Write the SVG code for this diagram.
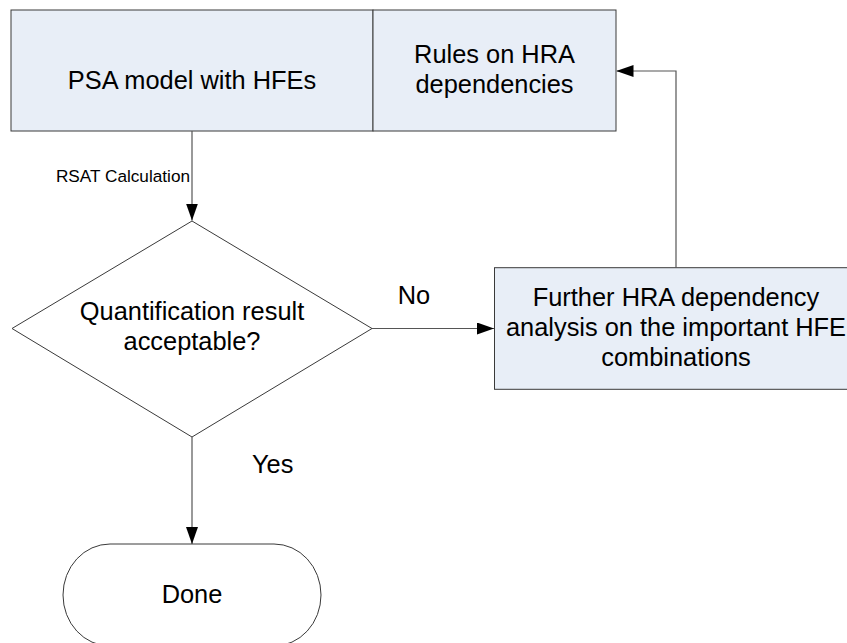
<svg xmlns="http://www.w3.org/2000/svg" width="847" height="643" viewBox="0 0 847 643">
  <defs>
    <style>
      .box { fill: #E8EEF7; stroke: #3a3a3a; stroke-width: 1; }
      .shape { fill: #FFFFFF; stroke: #3a3a3a; stroke-width: 1; }
      .conn { fill: none; stroke: #555555; stroke-width: 1.2; }
      .t { font-family: "Liberation Sans", Arial, sans-serif; font-size: 25.4px; fill: #000000; }
      .c { text-anchor: middle; }
      .small { font-family: "Liberation Sans", Arial, sans-serif; font-size: 17.2px; fill: #000000; }
    </style>
    <marker id="arrow" viewBox="0 0 17 12" refX="17" refY="6" markerWidth="17" markerHeight="12" markerUnits="userSpaceOnUse" orient="auto">
      <path d="M0,0 L17,6 L0,12 Z" fill="#000000"/>
    </marker>
  </defs>
  <rect x="0" y="0" width="847" height="643" fill="#FFFFFF"/>

  <g id="node-psa">
    <rect class="box" x="11" y="10" width="362" height="121"/>
    <text class="t c" x="192" y="89.3">PSA model with HFEs</text>
  </g>

  <g id="node-rules">
    <rect class="box" x="373" y="10" width="243" height="121"/>
    <text class="t c" x="494.5" y="63.3">Rules on HRA</text>
    <text class="t c" x="494.5" y="92.7">dependencies</text>
  </g>

  <g id="node-decision">
    <polygon class="shape" points="192,221 372,328.5 192,437 12,328.5"/>
    <text class="t c" x="192" y="320">Quantification result</text>
    <text class="t c" x="192" y="350">acceptable?</text>
  </g>

  <g id="node-further">
    <rect class="box" x="494.5" y="267.7" width="364" height="121.6"/>
    <text class="t c" x="676" y="306">Further HRA dependency</text>
    <text class="t c" x="676" y="336">analysis on the important HFE</text>
    <text class="t c" x="676" y="366">combinations</text>
  </g>

  <g id="node-done">
    <path class="shape" d="M110,544 H274 A47,51 0 0 1 274,646 H110 A47,51 0 0 1 110,544 Z"/>
    <text class="t c" x="192" y="603.3">Done</text>
  </g>

  <g id="connectors">
    <line class="conn" x1="192" y1="131" x2="192" y2="220.5" marker-end="url(#arrow)"/>
    <text class="small" x="190" y="182" text-anchor="end">RSAT Calculation</text>
    <line class="conn" x1="372" y1="328.5" x2="494" y2="328.5" marker-end="url(#arrow)"/>
    <text class="t" x="397.7" y="304">No</text>
    <line class="conn" x1="192" y1="437" x2="192" y2="544" marker-end="url(#arrow)"/>
    <text class="t" x="252" y="473.3">Yes</text>
    <polyline class="conn" points="676,267.7 676,71 616.5,71" marker-end="url(#arrow)"/>
  </g>
</svg>
